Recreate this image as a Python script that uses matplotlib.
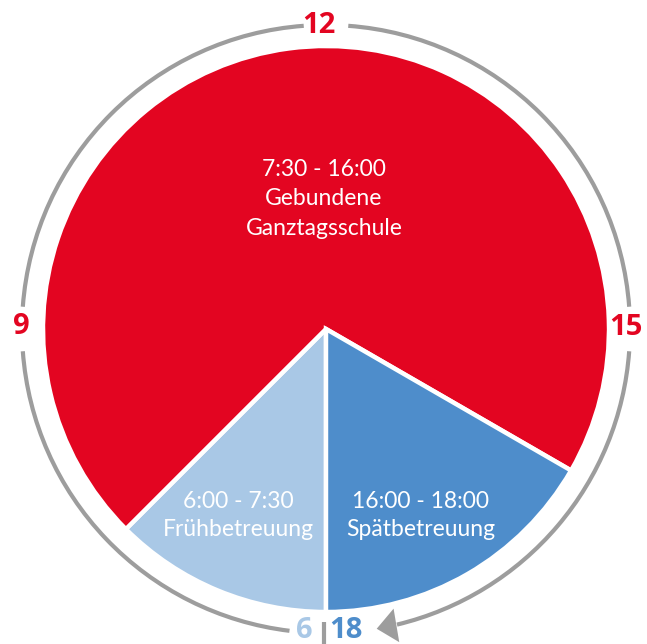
import numpy as np
import matplotlib
matplotlib.use("Agg")
import matplotlib.pyplot as plt
from matplotlib.patches import Arc, Polygon

# Data
segments = ["Frühbetreuung", "Gebundene\nGanztagsschule", "Spätbetreuung"]
starts = [6.0, 7.5, 16.0]
ends = [7.5, 16.0, 18.0]
time_labels = ["6:00 - 7:30", "7:30 - 16:00", "16:00 - 18:00"]
colors = ["#A9C8E6", "#E30521", "#4E8DCB"]
hour_ticks = [9, 12, 15]
hours = [e - s for s, e in zip(starts, ends)]

W, H = 647, 644
fig = plt.figure(figsize=(W / 100, H / 100), dpi=100)
ax = fig.add_axes([0, 0, 1, 1])

cx, cy = 326, H - 329
R = 283
RR = 304
GRAY = "#9D9D9D"

def ang(h):
    return 270 - (h - 6) * 30.0

ax.pie(hours, colors=colors, startangle=270, counterclock=False,
       center=(cx, cy), radius=R, frame=True,
       wedgeprops=dict(edgecolor="white", linewidth=3.2))
ax.set_xlim(0, W)
ax.set_ylim(0, H)
ax.axis("off")
ax.set_aspect("auto")

# ring segments
gap = 0.14
pts = [6 + 0.23] + [t for h in hour_ticks for t in (h - gap, h + gap)] + [17.55]
for a, b in zip(pts[0::2], pts[1::2]):
    ax.add_patch(Arc((cx, cy), 2 * RR, 2 * RR, theta1=ang(b), theta2=ang(a),
                     color=GRAY, lw=3.0, capstyle="butt"))

# arrowhead at 18
tip_h = 17.68
th = np.deg2rad(ang(tip_h))
tip = np.array([cx + RR * np.cos(th), cy + RR * np.sin(th)])
tang = np.array([np.sin(th), -np.cos(th)])  # clockwise direction
norm = np.array([np.cos(th), np.sin(th)])
L, Wd = 20, 34
base = tip - tang * L
tri = [tip, base + norm * Wd / 2, base - norm * Wd / 2]
ax.add_patch(Polygon(tri, closed=True, color=GRAY, lw=0))

# hour labels
bold = dict(fontsize=21, fontweight="bold", family="Open Sans", ha="center", va="center")
ax.text(319, H - 25, "12", color="#E30521", **bold)
ax.text(21, H - 326, "9", color="#E30521", **bold)
ax.text(626, H - 327, "15", color="#E30521", **bold)
ax.text(304, H - 630, "6", color=colors[0], **bold)
ax.text(346, H - 630, "18", color=colors[2], **bold)
ax.plot([324, 324], [H - 622, H - 644], color=GRAY, lw=3.0, solid_capstyle="butt")

# segment texts
txt = dict(fontsize=16.5, family="Lato", color="white", ha="center", va="center")
def block(x, y0, lines, dy=29.5):
    for i, s in enumerate(lines):
        ax.text(x, H - (y0 + i * dy), s, **txt)

block(324, 169, [time_labels[1]] + segments[1].split("\n"))
block(238, 501, [time_labels[0], segments[0]], dy=28)
block(421, 501, [time_labels[2], segments[2]], dy=28)

fig.savefig("out.png", dpi=100)
